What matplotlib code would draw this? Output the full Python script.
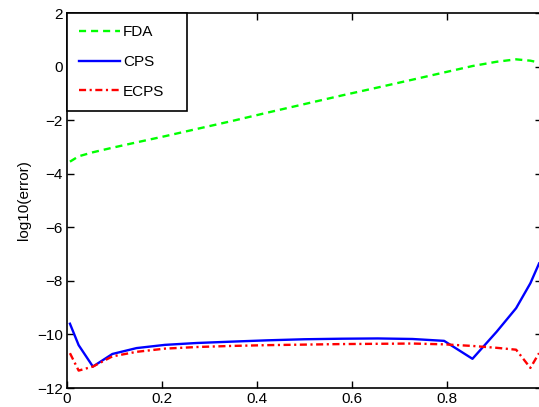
import numpy as np
import matplotlib
matplotlib.use("Agg")
import matplotlib.pyplot as plt

# Chebyshev nodes the errors were evaluated at
x = [0.0062, 0.0245, 0.0545, 0.0955, 0.1464, 0.2061, 0.2730, 0.3455, 0.4218, 0.5,
     0.5782, 0.6545, 0.7270, 0.7939, 0.8536, 0.9045, 0.9455, 0.9755, 0.9938]

fda = [-3.55, -3.35, -3.20, -3.03, -2.83, -2.60, -2.33, -2.04, -1.72, -1.40,
       -1.08, -0.78, -0.49, -0.22, 0.02, 0.18, 0.27, 0.22, 0.15]
cps = [-9.60, -10.40, -11.20, -10.73, -10.51, -10.39, -10.32, -10.27, -10.22, -10.18,
       -10.16, -10.15, -10.17, -10.24, -10.91, -9.90, -9.02, -8.09, -7.35]
ecps = [-10.70, -11.35, -11.20, -10.82, -10.65, -10.53, -10.47, -10.43, -10.40, -10.38,
        -10.36, -10.35, -10.34, -10.37, -10.43, -10.50, -10.57, -11.25, -10.70]

xticks = [0, 0.2, 0.4, 0.6, 0.8]
yticks = [-12, -10, -8, -6, -4, -2, 0, 2]

plt.rcParams['font.family'] = ['Liberation Sans', 'DejaVu Sans']

fig = plt.figure(figsize=(5.39, 4.07), dpi=100)
ax = fig.add_axes([67 / 539, 19 / 407, 475 / 539, 375 / 407])

ax.plot(x, fda, color=(0, 1, 0), lw=1.7, dashes=(3.0, 2.1), label="FDA")
ax.plot(x, cps, color=(0, 0, 1), lw=1.7, label="CPS")
ax.plot(x, ecps, color=(1, 0, 0), lw=1.7, dashes=(3.0, 1.5, 0.9, 1.5), label="ECPS")

ax.set_xlim(0, 1)
ax.set_ylim(-12, 2)
ax.set_xticks(xticks)
ax.set_xticklabels(["0", "0.2", "0.4", "0.6", "0.8"])
ax.set_yticks(yticks)
ax.set_yticklabels([f"\u2212{abs(v)}" if v < 0 else str(v) for v in yticks])
ax.tick_params(direction='in', length=5, width=1, top=True, right=True,
               labelsize=11, pad=3, colors='black')
for s in ax.spines.values():
    s.set_linewidth(1.2)
ax.set_ylabel("log10(error)", fontsize=11, labelpad=4)

leg = ax.legend(loc='upper left', bbox_to_anchor=(0, 1, 120 / 475, 0), mode='expand',
                borderaxespad=0, fontsize=11, handlelength=2.7, handletextpad=0.15,
                labelspacing=1.03, borderpad=0.8, fancybox=False,
                framealpha=1, edgecolor='black')
leg.get_frame().set_linewidth(1.2)

fig.savefig("out.png", dpi=100)
